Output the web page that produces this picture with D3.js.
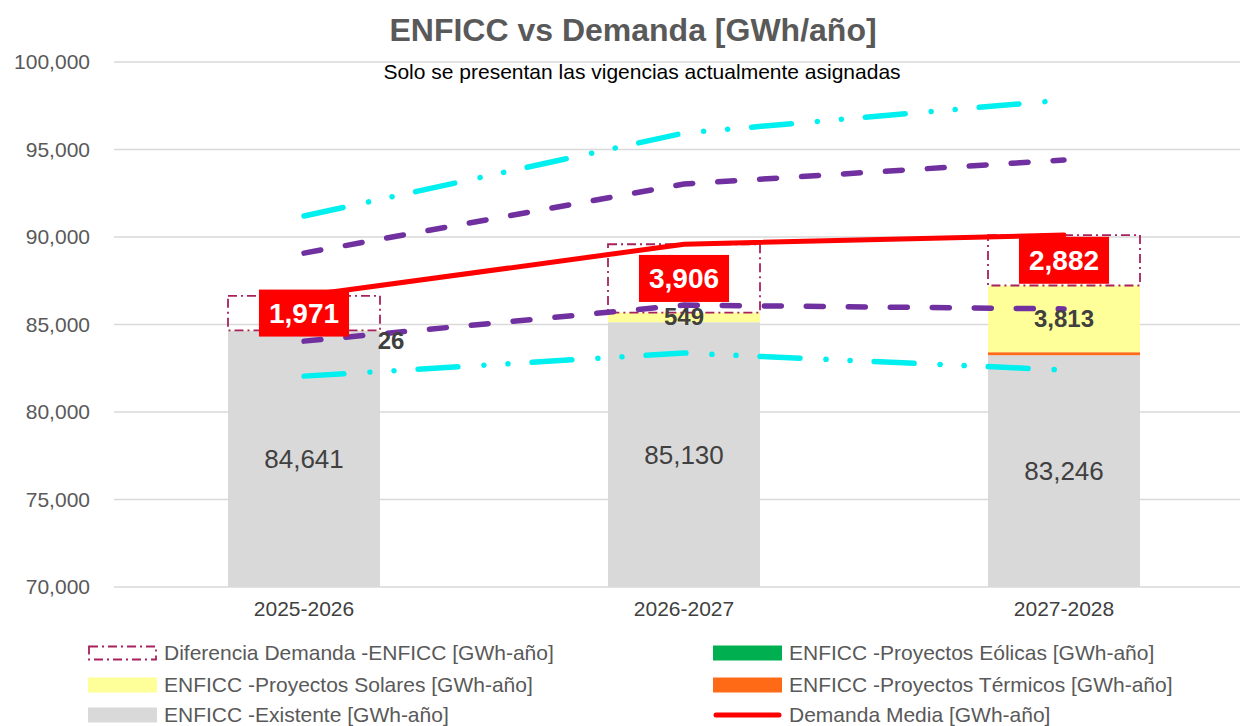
<!DOCTYPE html>
<html><head><meta charset="utf-8">
<script src="https://cdn.jsdelivr.net/npm/d3@7"></script>
<style>
body{margin:0;background:#fff}
svg{display:block;font-family:"Liberation Sans",Arial,sans-serif}
</style>
</head><body>
<svg id="c" width="1240" height="726"></svg>
<script>
// ---- data ----
const categories = ["2025-2026", "2026-2027", "2027-2028"];
const existente = [84641, 85130, 83246];
const termicos = [0, 0, 170];
const eolicas = [0, 0, 0];
const solares = [26, 549, 3813];
const diferencia = [1971, 3906, 2882];
const demandaMedia = [86638, 89585, 90111];
const escenarioAlto = [91200, 95940, 97830];
const escenarioMedioAlto = [89080, 93030, 94400];
const escenarioMedioBajo = [84050, 86110, 85890];
const escenarioBajo = [82050, 83370, 82400];
const yTicks = [70000, 75000, 80000, 85000, 90000, 95000, 100000];
const legendItems = [
  {name: "Diferencia Demanda -ENFICC [GWh-año]", kind: "box"},
  {name: "ENFICC -Proyectos Eólicas [GWh-año]", kind: "rect", color: "#00B050"},
  {name: "ENFICC -Proyectos Solares [GWh-año]", kind: "rect", color: "#FFFF99"},
  {name: "ENFICC -Proyectos Térmicos [GWh-año]", kind: "rect", color: "#FF6A17"},
  {name: "ENFICC -Existente [GWh-año]", kind: "rect", color: "#D9D9D9"},
  {name: "Demanda Media [GWh-año]", kind: "line", color: "#FF0000"}
];

// ---- setup ----
const W = 1240, H = 726;
const svg = d3.select("#c");
const x = d3.scaleBand().domain(categories).range([114, 1254]).paddingInner(0.6).paddingOuter(0.3);
const y = d3.scaleLinear().domain([70000, 100000]).range([587, 62]);
const bw = x.bandwidth();
const cx = c => x(c) + bw / 2;
const fmt = d3.format(",");

// gridlines
svg.append("g").selectAll("line").data(yTicks).join("line")
  .attr("x1", 114).attr("x2", W)
  .attr("y1", d => y(d)).attr("y2", d => y(d))
  .attr("stroke", "#D9D9D9").attr("stroke-width", 1.5);

// y axis labels
const yAxis = svg.append("g").attr("transform", "translate(112,0)")
  .call(d3.axisLeft(y).tickValues(yTicks).tickFormat(fmt).tickSize(0).tickPadding(22));
yAxis.select(".domain").remove();
yAxis.selectAll("text").attr("font-size", 21).attr("fill", "#595959")
  .attr("font-family", '"Liberation Sans",Arial,sans-serif');

// x axis labels
const xAxis = svg.append("g").attr("transform", "translate(0,587)")
  .call(d3.axisBottom(x).tickSize(0).tickPadding(14));
xAxis.select(".domain").remove();
xAxis.selectAll("text").attr("font-size", 21).attr("fill", "#404040")
  .attr("font-family", '"Liberation Sans",Arial,sans-serif');

// stacked bars
const rows = categories.map((c, i) => ({
  cat: c, existente: existente[i], termicos: termicos[i], eolicas: eolicas[i],
  solares: solares[i], diferencia: diferencia[i]
}));
const keys = ["existente", "termicos", "eolicas", "solares", "diferencia"];
const colors = {existente: "#D9D9D9", termicos: "#FF6A17", eolicas: "#00B050", solares: "#FFFF99"};
const stack = d3.stack().keys(keys).offset(d3.stackOffsetNone);
const series = stack(rows);
series.forEach(s => {
  const g = svg.append("g");
  const rects = g.selectAll("rect").data(s).join("rect")
    .attr("x", d => x(d.data.cat))
    .attr("width", bw)
    .attr("y", d => y(d[1]))
    .attr("height", d => Math.max(0, y(Math.max(d[0], 70000)) - y(d[1])));
  if (s.key === "diferencia") {
    rects.attr("fill", "none").attr("stroke", "#A8205E").attr("stroke-width", 1.8)
      .attr("stroke-dasharray", "9,4,2,4");
  } else {
    rects.attr("fill", colors[s.key]);
  }
});

// scenario lines
const line = d3.line().x((d, i) => cx(categories[i])).y(d => y(d));
function drawLine(data, color, dash, width) {
  svg.append("path").datum(data).attr("d", line)
    .attr("fill", "none").attr("stroke", color).attr("stroke-width", width)
    .attr("stroke-linecap", "round").attr("stroke-dasharray", dash);
}
drawLine(escenarioAlto, "#00F0F0", "40,26,0.1,24,0.1,24", 5.5);
drawLine(escenarioBajo, "#00F0F0", "40,26,0.1,24,0.1,24", 5.5);
drawLine(escenarioMedioAlto, "#7030A0", "17,25", 5.5);
drawLine(escenarioMedioBajo, "#7030A0", "17,25", 5.5);
drawLine(demandaMedia, "#FF0000", null, 5);

// labels: existente
svg.append("g").selectAll("text").data(series[0]).join("text")
  .attr("x", d => cx(d.data.cat))
  .attr("y", d => (y(70000) + y(d[1])) / 2 + 9)
  .attr("text-anchor", "middle").attr("font-size", 26).attr("fill", "#404040")
  .text(d => fmt(d.data.existente));

// labels: solares
const sol = series[3];
svg.append("g").selectAll("text").data(sol).join("text")
  .attr("x", d => d.data.solares < 100 ? x(d.data.cat) + bw + 11 : cx(d.data.cat))
  .attr("y", d => (y(d[0]) + y(d[1])) / 2 + (d.data.solares < 100 ? 18 : 8))
  .attr("text-anchor", "middle").attr("font-size", 24).attr("font-weight", "bold").attr("fill", "#404040")
  .text(d => fmt(d.data.solares));

// labels: diferencia (red boxes)
const dif = series[4];
const dg = svg.append("g").selectAll("g").data(dif).join("g")
  .attr("transform", d => `translate(${cx(d.data.cat)},${(y(d[0]) + y(d[1])) / 2})`);
dg.append("rect").attr("fill", "#FF0000");
dg.append("text").attr("text-anchor", "middle").attr("y", 10)
  .attr("font-size", 28).attr("font-weight", "bold").attr("fill", "#FFFFFF")
  .text(d => fmt(d.data.diferencia));
dg.each(function() {
  const t = d3.select(this).select("text").node();
  const w = t.getComputedTextLength() + 20;
  d3.select(this).select("rect").attr("x", -w / 2).attr("y", -23.5).attr("width", w).attr("height", 47);
});

// title
svg.append("text").attr("x", 633).attr("y", 41).attr("text-anchor", "middle")
  .attr("font-size", 32).attr("font-weight", "bold").attr("fill", "#595959")
  .text("ENFICC vs Demanda [GWh/año]");
svg.append("text").attr("x", 642).attr("y", 79).attr("text-anchor", "middle")
  .attr("font-size", 21).attr("fill", "#000")
  .text("Solo se presentan las vigencias actualmente asignadas");

// legend
const lg = svg.append("g").selectAll("g").data(legendItems).join("g")
  .attr("transform", (d, i) => `translate(${i % 2 === 0 ? 88 : 713},${[653, 685, 715][Math.floor(i / 2)]})`);
lg.each(function(d) {
  const g = d3.select(this);
  if (d.kind === "rect") {
    g.append("rect").attr("x", 0).attr("y", -7.5).attr("width", 69).attr("height", 15).attr("fill", d.color);
  } else if (d.kind === "box") {
    g.append("rect").attr("x", 1).attr("y", -6.5).attr("width", 67).attr("height", 13)
      .attr("fill", "none").attr("stroke", "#A8205E").attr("stroke-width", 1.8).attr("stroke-dasharray", "9,4,2,4");
  } else {
    g.append("line").attr("x1", 3).attr("x2", 66).attr("y1", 0).attr("y2", 0)
      .attr("stroke", d.color).attr("stroke-width", 5).attr("stroke-linecap", "round");
  }
  g.append("text").attr("x", 76).attr("y", 7).attr("font-size", 21).attr("fill", "#595959").text(d.name);
});
</script>
</body></html>
